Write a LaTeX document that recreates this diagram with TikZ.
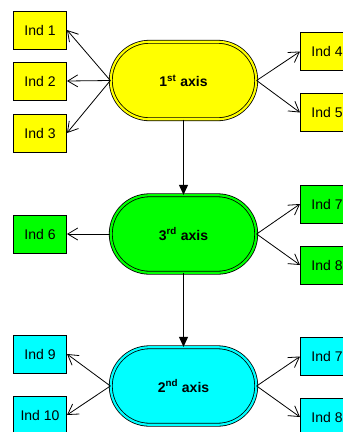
\documentclass[tikz,border=0pt]{standalone}
\usepackage{fontspec}
\setmainfont{Liberation Sans}
\usetikzlibrary{shapes.misc,arrows.meta}
\definecolor{cy}{HTML}{FFFF00}
\definecolor{cg}{HTML}{00FF00}
\definecolor{cc}{HTML}{00FFFF}
\begin{document}
\begin{tikzpicture}[x=1pt,y=-1pt,
  ind/.style={draw=black, line width=1pt, minimum width=53pt, minimum height=38pt, inner sep=0pt, font=\fontsize{14}{16}\selectfont},
  axis/.style={rounded rectangle, draw=black, line width=0.8pt, double distance=2.2pt, minimum width=145.5pt, minimum height=77.5pt, inner sep=0pt, font=\bfseries\fontsize{14}{16}\selectfont},
  link/.style={line width=0.8pt, -{Straight Barb[length=10pt,width=12pt]}},
  down/.style={line width=1pt, -{Triangle[length=10pt,width=9pt]}}]
\useasboundingbox (0,0) rectangle (343,432);
% axes
\node[axis, fill=cy, double=cy] (e1) at (183.5,80.5) {1\textsuperscript{st} axis};
\node[axis, fill=cg, double=cg] (e3) at (183.5,234) {3\textsuperscript{rd} axis};
\node[axis, fill=cc, double=cc] (e2) at (183.5,386) {2\textsuperscript{nd} axis};
% yellow
\node[ind, fill=cy] (i1) at (40,30) {Ind 1};
\node[ind, fill=cy] (i2) at (40,81) {Ind 2};
\node[ind, fill=cy] (i3) at (40,133) {Ind 3};
\node[ind, fill=cy] (i4) at (327,51.5) {Ind 4};
\node[ind, fill=cy] (i5) at (327,112.5) {Ind 5};
% green
\node[ind, fill=cg] (i6) at (40,234) {Ind 6};
\node[ind, fill=cg] (g7) at (327,204) {Ind 7};
\node[ind, fill=cg] (g8) at (327,265) {Ind 8};
% cyan
\node[ind, fill=cc] (i9) at (40,354) {Ind 9};
\node[ind, fill=cc] (i10) at (40,415) {Ind 10};
\node[ind, fill=cc] (c7) at (327,356.5) {Ind 7};
\node[ind, fill=cc] (c8) at (327,417) {Ind 8};
% connectors
\foreach \t in {i1,i2,i3} \draw[link] (e1.west) -- (\t.east);
\foreach \t in {i4,i5} \draw[link] (e1.east) -- (\t.west);
\draw[link] (e3.west) -- (i6.east);
\foreach \t in {g7,g8} \draw[link] (e3.east) -- (\t.west);
\foreach \t in {i9,i10} \draw[link] (e2.west) -- (\t.east);
\foreach \t in {c7,c8} \draw[link] (e2.east) -- (\t.west);
\draw[down] (e1.south) -- (e3.north);
\draw[down] (e3.south) -- (e2.north);
\end{tikzpicture}
\end{document}
